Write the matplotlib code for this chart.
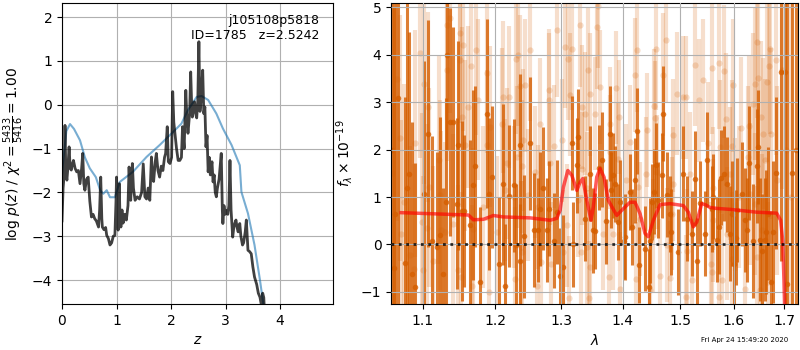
import matplotlib
matplotlib.use("Agg")
import matplotlib.pyplot as plt
from matplotlib.ticker import FixedLocator, FormatStrFormatter, NullLocator

# ---- left panel: log p(z) ----
z_pz = [0.00, 0.02, 0.04, 0.055, 0.07, 0.09, 0.11, 0.13, 0.15, 0.17, 0.19, 0.21, 0.24, 0.27,
        0.30, 0.33, 0.36, 0.38, 0.40, 0.42, 0.45, 0.48, 0.51, 0.54, 0.57, 0.60, 0.63, 0.67,
        0.69, 0.71, 0.73, 0.74, 0.77, 0.80, 0.82, 0.85, 0.88, 0.91, 0.94, 0.97, 0.99, 1.00,
        1.02, 1.03, 1.05, 1.06, 1.08, 1.10, 1.12, 1.15, 1.18, 1.21, 1.23, 1.25, 1.26, 1.29,
        1.31, 1.34, 1.38, 1.42, 1.46, 1.49, 1.52, 1.55, 1.58, 1.61, 1.64, 1.66, 1.68, 1.71,
        1.73, 1.76, 1.79, 1.82, 1.85, 1.88, 1.90, 1.93, 1.95, 1.98, 2.01, 2.03, 2.05, 2.07,
        2.10, 2.13, 2.16, 2.19, 2.21, 2.24, 2.27, 2.29, 2.31, 2.34, 2.36, 2.38, 2.39, 2.41,
        2.43, 2.45, 2.47, 2.49, 2.51, 2.53, 2.55, 2.58, 2.60, 2.62, 2.64, 2.66, 2.68, 2.70,
        2.72, 2.75, 2.77, 2.79, 2.81, 2.83, 2.85, 2.88, 2.90, 2.92, 2.94, 2.95, 2.97, 2.99,
        3.02, 3.04, 3.06, 3.08, 3.10, 3.13, 3.15, 3.17, 3.19, 3.21, 3.23, 3.26, 3.28, 3.31,
        3.33, 3.36, 3.38, 3.40, 3.41, 3.44, 3.47, 3.50, 3.53, 3.57, 3.60, 3.63, 3.66, 3.68,
        3.70, 3.72]
logpz = [-2.65, -1.90, -1.60, -0.47, -1.55, -1.72, -1.40, -0.96, -1.45, -1.49, -1.35, -1.27,
         -1.45, -1.53, -1.50, -1.80, -1.45, -1.11, -1.80, -1.95, -1.70, -1.65, -2.20, -2.56,
         -2.50, -2.60, -2.65, -2.79, -2.40, -1.65, -2.60, -2.79, -2.85, -2.80, -2.98, -3.05,
         -3.20, -3.15, -3.00, -2.98, -2.20, -1.65, -2.50, -2.86, -1.80, -2.40, -2.79, -2.40,
         -2.70, -2.50, -2.63, -2.30, -1.42, -2.00, -2.18, -1.34, -1.90, -2.18, -2.10, -2.15,
         -2.00, -1.35, -2.10, -2.15, -1.90, -2.18, -1.19, -1.60, -1.75, -1.30, -1.11, -1.50,
         -1.65, -1.40, -1.50, -1.20, -1.11, -0.50, -1.30, -1.34, -1.20, 0.30, -0.40, -0.65,
         -1.00, -1.27, -1.27, -1.20, -0.50, -1.00, 0.33, -0.30, -0.65, -0.20, 0.75, -0.10,
         -0.28, -0.05, 0.07, -0.20, -0.30, 0.10, 1.44, -0.15, 0.15, 0.79, -0.20, -0.05,
         -0.96, -0.70, -1.53, -1.20, -1.60, -1.30, -1.76, -1.60, -2.00, -2.10, -1.90, -1.70,
         -1.40, -1.11, -2.40, -2.71, -2.30, -2.50, -2.41, -2.50, -2.30, -1.27, -2.40, -3.02,
         -2.80, -2.70, -2.63, -2.80, -2.90, -2.71, -3.00, -3.20, -3.15, -2.90, -2.63, -3.10,
         -3.32, -3.35, -3.40, -3.70, -3.93, -4.10, -4.30, -4.39, -4.60, -4.30, -4.40, -4.90]

z_prior = [0.00, 0.024, 0.08, 0.147, 0.22, 0.33, 0.42, 0.51, 0.62, 0.70, 0.757, 0.82, 0.88,
           0.97, 1.06, 1.30, 1.55, 1.79, 2.07, 2.19, 2.31, 2.47, 2.56, 2.68, 2.83, 2.95,
           3.11, 3.26, 3.29, 3.41, 3.53, 3.63, 3.69, 3.75]
logp_prior = [-1.60, -1.26, -0.60, -0.44, -0.55, -0.81, -1.20, -1.45, -1.65, -1.95, -2.03,
              -1.95, -2.11, -2.11, -1.76, -1.53, -1.19, -0.92, -0.58, -0.43, -0.12, 0.18,
              0.20, 0.11, -0.20, -0.54, -0.92, -1.38, -1.99, -2.48, -3.20, -4.00, -4.53, -5.20]

# ---- right panel: spectrum ----
lam_raw = [1.060, 1.066, 1.070, 1.072, 1.075, 1.083, 1.088, 1.090, 1.096, 1.099, 1.100, 1.101,
           1.106, 1.107, 1.108, 1.114, 1.121, 1.123, 1.124, 1.130, 1.132, 1.133, 1.137, 1.141,
           1.148, 1.150, 1.151, 1.152, 1.153, 1.154, 1.157, 1.162, 1.166, 1.167, 1.169, 1.173,
           1.175, 1.183, 1.188, 1.189, 1.191, 1.193, 1.203, 1.210, 1.212, 1.215, 1.217, 1.220,
           1.227, 1.229, 1.230, 1.232, 1.234, 1.237, 1.238, 1.239, 1.240, 1.241, 1.244, 1.249,
           1.252, 1.259, 1.262, 1.264, 1.267, 1.269, 1.280, 1.281, 1.282, 1.283, 1.288, 1.293,
           1.301, 1.303, 1.306, 1.308, 1.311, 1.312, 1.314, 1.316, 1.327, 1.329, 1.331, 1.332,
           1.333, 1.338, 1.340, 1.341, 1.343, 1.344, 1.345, 1.346, 1.354, 1.357, 1.359, 1.362,
           1.367, 1.376, 1.378, 1.379, 1.384, 1.389, 1.392, 1.394, 1.395, 1.406, 1.412, 1.421,
           1.423, 1.424, 1.426, 1.429, 1.440, 1.441, 1.447, 1.452, 1.453, 1.456, 1.457, 1.458,
           1.464, 1.470, 1.474, 1.476, 1.482, 1.485, 1.487, 1.488, 1.494, 1.505, 1.510, 1.511,
           1.512, 1.518, 1.521, 1.527, 1.535, 1.541, 1.552, 1.557, 1.558, 1.559, 1.560, 1.561,
           1.571, 1.572, 1.574, 1.577, 1.581, 1.586, 1.587, 1.593, 1.596, 1.597, 1.598, 1.603,
           1.611, 1.614, 1.622, 1.628, 1.629, 1.632, 1.638, 1.641, 1.642, 1.645, 1.646, 1.648,
           1.652, 1.653, 1.655, 1.657, 1.661, 1.666, 1.668, 1.670, 1.672, 1.674, 1.683, 1.685,
           1.695, 1.705, 1.715]
flux_raw = [1.50, 3.50, 2.24, 0.23, 0.89, -0.23, -0.51, 2.13, 4.03, 0.47, -0.55, 3.38,
            0.34, 2.90, 1.21, -0.34, 1.78, 1.04, 0.30, 0.26, 4.63, 3.67, 4.77, 0.44,
            -0.55, 4.47, 3.89, -0.69, 2.69, 4.20, 2.09, 2.90, 3.76, -0.87, 0.33, 4.11,
            3.05, 0.79, 3.62, 2.09, -1.01, 2.48, 0.26, 2.55, 3.11, 1.14, 1.71, 3.11,
            1.00, -0.72, 3.92, 1.85, 3.99, 3.34, -0.06, -0.16, 1.65, 2.20, 3.36, 1.04,
            4.11, 1.53, -0.87, 0.79, 2.54, -0.37, 3.05, 3.25, 1.71, -0.41, 2.07, 4.52,
            2.20, -0.16, 4.17, 0.40, 3.92, -1.13, 3.16, 4.13, 0.93, 4.63, -0.16, 2.90,
            1.60, 2.76, 1.18, -0.06, 3.69, -1.13, -0.48, 3.17, 2.76, 4.58, 5.03, 3.32,
            0.23, -0.69, 2.55, 1.95, 0.23, 3.31, 1.81, 2.69, -0.94, 1.35, 2.16, 3.57,
            -0.72, 4.10, 1.21, 0.54, 1.49, 2.41, -0.97, 0.19, 2.92, 2.66, 4.13, 1.53,
            -0.66, 3.58, 4.31, -0.02, -0.70, 0.65, 1.28, 2.30, 3.18, 3.10, -1.10, 3.10,
            -0.13, 1.49, -0.76, 3.79, 3.04, 3.46, 2.13, -0.41, 3.73, -0.59, 1.18, 0.51,
            -1.11, 3.83, 2.06, -0.76, 3.65, 2.64, 0.23, 1.49, 2.07, -0.30, 3.36, 0.84,
            1.00, 2.45, -0.94, 1.85, 2.49, 1.07, 2.97, 0.86, 3.39, -0.27, 4.26, 3.52,
            -0.96, 2.69, 0.30, 2.34, 1.78, 3.43, -0.80, 3.77, 4.13, 2.34, 3.89, 1.35,
            3.67, 2.00, 1.00]
err_raw = [4.0, 3.0, 2.6, 2.4, 2.5, 2.3, 2.2, 2.4, 2.2, 2.3, 2.0, 2.1,
           2.2, 2.0, 2.1, 2.0, 2.2, 2.0, 2.1, 1.9, 2.0, 1.9, 2.0, 1.9,
           1.8, 1.9, 1.8, 1.8, 1.9, 1.8, 1.8, 1.7, 1.8, 1.7, 1.7, 1.8,
           1.7, 1.7, 1.7, 1.6, 1.6, 1.7, 1.6, 1.6, 1.6, 1.5, 1.6, 1.5,
           1.5, 1.5, 1.6, 1.5, 1.5, 1.5, 1.4, 1.5, 1.4, 1.5, 1.4, 1.4,
           1.5, 1.4, 1.4, 1.3, 1.4, 1.3, 1.4, 1.3, 1.3, 1.3, 1.3, 1.4,
           1.3, 1.3, 1.3, 1.3, 1.3, 1.3, 1.3, 1.3, 1.2, 1.3, 1.2, 1.3,
           1.2, 1.3, 1.2, 1.2, 1.3, 1.2, 1.2, 1.3, 1.2, 1.3, 1.3, 1.2,
           1.2, 1.2, 1.2, 1.2, 1.2, 1.2, 1.2, 1.2, 1.2, 1.2, 1.2, 1.2,
           1.2, 1.3, 1.2, 1.2, 1.2, 1.2, 1.2, 1.2, 1.2, 1.2, 1.3, 1.2,
           1.2, 1.3, 1.3, 1.2, 1.2, 1.2, 1.2, 1.2, 1.3, 1.3, 1.3, 1.3,
           1.3, 1.3, 1.3, 1.3, 1.3, 1.3, 1.3, 1.3, 1.4, 1.3, 1.3, 1.3,
           1.4, 1.4, 1.4, 1.4, 1.4, 1.4, 1.4, 1.4, 1.4, 1.4, 1.4, 1.4,
           1.5, 1.5, 1.5, 1.5, 1.5, 1.5, 1.5, 1.5, 1.6, 1.5, 1.6, 1.6,
           1.6, 1.6, 1.6, 1.6, 1.7, 1.7, 1.7, 1.8, 1.8, 1.8, 2.0, 2.0,
           2.5, 4.0, 5.0]

lam_bin = [1.060, 1.062, 1.064, 1.068, 1.076, 1.079, 1.082, 1.086, 1.090, 1.101, 1.107, 1.112,
           1.119, 1.123, 1.127, 1.131, 1.133, 1.137, 1.141, 1.146, 1.147, 1.153, 1.156, 1.164,
           1.168, 1.172, 1.179, 1.188, 1.191, 1.195, 1.206, 1.211, 1.215, 1.220, 1.227, 1.231,
           1.236, 1.237, 1.243, 1.252, 1.257, 1.264, 1.267, 1.272, 1.277, 1.280, 1.288, 1.293,
           1.298, 1.303, 1.316, 1.319, 1.324, 1.327, 1.338, 1.346, 1.350, 1.354, 1.361, 1.365,
           1.372, 1.378, 1.380, 1.383, 1.387, 1.391, 1.395, 1.401, 1.404, 1.412, 1.416, 1.421,
           1.424, 1.428, 1.437, 1.444, 1.447, 1.450, 1.453, 1.457, 1.461, 1.467, 1.470, 1.476,
           1.481, 1.484, 1.496, 1.506, 1.512, 1.521, 1.527, 1.531, 1.536, 1.546, 1.550, 1.558,
           1.561, 1.568, 1.571, 1.576, 1.581, 1.588, 1.593, 1.596, 1.601, 1.604, 1.607, 1.617,
           1.622, 1.625, 1.630, 1.638, 1.646, 1.648, 1.652, 1.655, 1.661, 1.663, 1.668, 1.673,
           1.678, 1.683, 1.693, 1.702, 1.707, 1.716, 1.724]
flux_bin = [2.00, -0.50, 0.65, 3.08, -0.40, 1.18, 1.49, -0.62, -0.89, 1.06, 2.34, 0.08,
            -0.06, 0.19, -0.62, 0.89, 4.00, 2.58, 2.58, 0.86, 2.09, 0.70, 0.70, 0.40,
            1.25, 1.65, -0.80, 2.76, 1.07, 1.42, -0.41, 1.27, -0.87, 1.02, 1.25, -0.02,
            2.09, -0.34, 0.17, 2.13, 0.31, 0.31, 0.75, 1.18, 0.31, 0.75, 0.08, 0.68,
            -0.66, -0.48, 2.14, 0.00, 1.67, 2.27, 0.54, 1.49, 0.30, 0.28, 1.62, 1.79,
            0.49, 2.34, 1.14, 1.46, 1.28, 0.47, 0.89, 0.08, 0.16, 1.11, 0.37, 1.35,
            2.39, -0.44, -0.09, -0.90, 0.08, 0.89, 1.11, 1.67, 0.93, 1.46, 2.76, 1.05,
            0.65, 0.26, -0.16, 1.49, 0.54, 0.23, 1.39, -0.35, 0.87, 0.23, 1.79, 0.75,
            1.01, 0.10, 0.37, 1.41, 1.49, 1.27, 0.23, 0.65, -0.41, 0.14, 0.72, 1.07,
            0.51, 0.30, 1.71, 0.08, 1.65, 2.06, 0.10, -0.13, 0.10, 0.26, 0.65, -0.80,
            0.26, 1.51, 3.64, 3.64, -0.83, 1.50, 2.00]
err_bin = [6.0, 5.5, 5.0, 4.5, 3.5, 4.0, 3.0, 3.2, 2.6, 2.8, 2.4, 2.2,
           2.0, 2.5, 1.8, 2.2, 2.0, 2.4, 2.0, 1.8, 2.2, 1.9, 1.6, 1.8,
           2.0, 1.7, 1.6, 2.0, 1.6, 1.5, 1.4, 1.7, 1.3, 1.5, 1.4, 1.3,
           1.5, 1.2, 1.3, 1.4, 1.2, 1.1, 1.2, 1.3, 1.1, 1.0, 1.0, 1.1,
           1.0, 1.1, 1.0, 0.9, 1.0, 1.0, 0.9, 1.0, 0.9, 0.8, 0.9, 1.0,
           0.9, 1.0, 0.8, 0.9, 0.8, 0.8, 0.9, 0.8, 0.9, 0.8, 0.8, 0.9,
           0.9, 0.8, 0.9, 0.8, 0.9, 0.8, 0.9, 0.9, 0.8, 0.9, 1.0, 0.9,
           0.8, 0.9, 0.9, 1.0, 0.9, 0.9, 1.0, 0.9, 0.9, 0.9, 1.0, 0.9,
           0.9, 0.9, 1.0, 1.0, 1.0, 1.0, 1.0, 1.1, 1.0, 1.0, 1.1, 1.1,
           1.1, 1.1, 1.2, 1.2, 1.2, 1.2, 1.3, 1.2, 1.3, 1.3, 1.4, 1.5,
           1.5, 1.6, 4.0, 6.0, 6.0, 8.0, 8.0]

lam_model = [1.0716, 1.1621, 1.1691, 1.1833, 1.1976, 1.2122, 1.2518, 1.2824, 1.2927, 1.2979,
             1.3031, 1.3100, 1.3163, 1.3243, 1.3295, 1.3339, 1.3403, 1.3473, 1.3510, 1.3565,
             1.3619, 1.3685, 1.3756, 1.3896, 1.3980, 1.4121, 1.4206, 1.4292, 1.4378, 1.4436,
             1.4523, 1.4641, 1.4819, 1.5058, 1.5149, 1.5240, 1.5303, 1.5395, 1.5457, 1.5550,
             1.5676, 1.5929, 1.6449, 1.6851, 1.6932, 1.6973, 1.7000, 1.7020]
flux_model = [0.67, 0.62, 0.52, 0.53, 0.61, 0.58, 0.56, 0.51, 0.55, 0.72,
              1.21, 1.56, 1.46, 1.14, 1.31, 1.39, 0.93, 0.51, 0.80, 1.42,
              1.60, 1.42, 0.93, 0.61, 0.72, 0.89, 0.89, 0.65, 0.23, 0.16,
              0.51, 0.84, 0.86, 0.82, 0.68, 0.37, 0.47, 0.86, 0.84, 0.78,
              0.76, 0.74, 0.68, 0.66, 0.51, 0.09, -0.76, -1.60]

lam_ticks = [1.1, 1.2, 1.3, 1.4, 1.5, 1.6, 1.7]
grism_color = (0.835, 0.369, 0.0)

fig = plt.figure(figsize=(8, 3.5), dpi=100)

# left panel
ax1 = fig.add_axes([0.0775, 0.131, 0.3388, 0.860])
ax1.plot(z_prior, logp_prior, color="tab:blue", alpha=0.6, lw=1.5)
ax1.plot(z_pz, logpz, color="k", alpha=0.75, lw=2)
ax1.set_xlim(0, 4.97)
ax1.set_ylim(-4.55, 2.32)
ax1.set_xticks([0, 1, 2, 3, 4])
ax1.set_yticks([-4, -3, -2, -1, 0, 1, 2])
ax1.grid(True)
ax1.set_xlabel(r"$z$")
ax1.set_ylabel(r"$\log\,p(z)$" + " / " + r"$\chi^2=\frac{5433}{5416}=1.00$")
ax1.text(0.95, 0.965, "j105108p5818\nID=1785   z=2.5242", transform=ax1.transAxes,
         ha="right", va="top", fontsize=9)

# right panel
ax2 = fig.add_axes([0.489, 0.131, 0.5085, 0.860])
ax2.errorbar(lam_raw, flux_raw, yerr=err_raw, fmt="o", color=grism_color, alpha=0.2,
             ms=4.5, mew=0, elinewidth=3, capsize=0, linestyle="None")
ax2.errorbar(lam_bin, flux_bin, yerr=err_bin, fmt="o", color=grism_color, alpha=0.8,
             ms=4, mew=0, elinewidth=2.2, capsize=0, linestyle="None")
ax2.plot(lam_model, flux_model, color="r", alpha=0.65, lw=2.5, zorder=4)
ax2.axhline(0, color="k", ls=":", lw=2, alpha=0.8, zorder=5)
ax2.set_xscale("log")
ax2.set_xlim(1.0588, 1.729)
ax2.set_ylim(-1.26, 5.09)
ax2.xaxis.set_major_locator(FixedLocator(lam_ticks))
ax2.xaxis.set_major_formatter(FormatStrFormatter("%.1f"))
ax2.xaxis.set_minor_locator(NullLocator())
ax2.set_yticks([-1, 0, 1, 2, 3, 4, 5])
ax2.set_axisbelow(False)
ax2.grid(True)
ax2.set_xlabel(r"$\lambda$")
ax2.set_ylabel(r"$f_\lambda\times10^{-19}$")

fig.text(0.985, 0.02, "Fri Apr 24 15:49:20 2020", ha="right", va="bottom", fontsize=5)

fig.savefig("out.png", dpi=100)
